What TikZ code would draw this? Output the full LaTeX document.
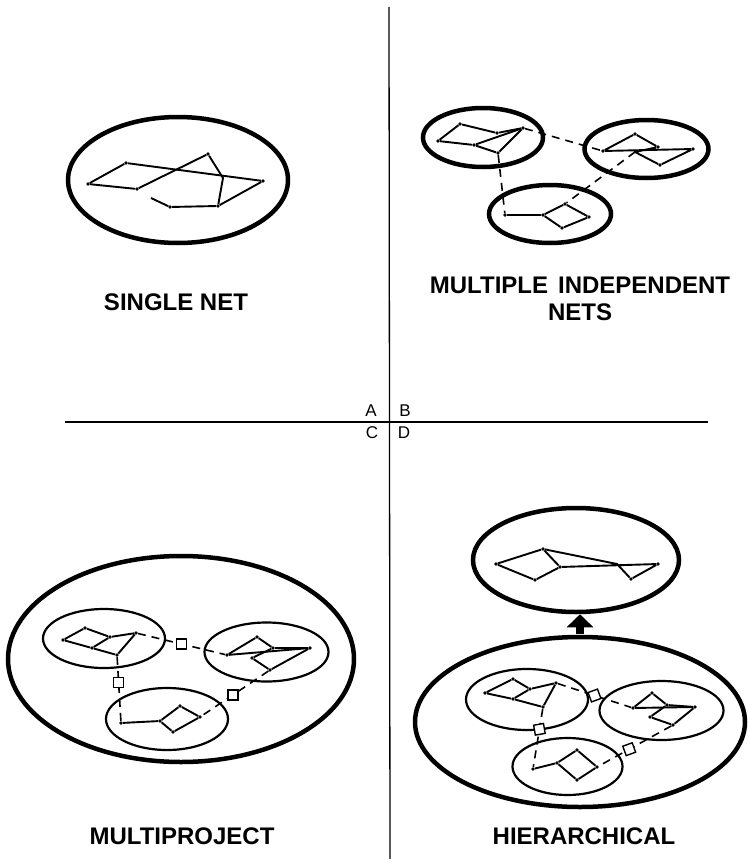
\documentclass[tikz,border=0pt]{standalone}
\usepackage{fontspec}
\setsansfont{Liberation Sans}
\usetikzlibrary{shapes.geometric, arrows.meta}
\tikzset{
  % boundary of a net (line width as parameter)
  ring/.style={ellipse, draw, inner sep=0pt, line width=#1},
  ring/.default=4.5pt,
  vtx/.style={circle, fill, inner sep=0pt, minimum size=3.6pt},
  netedge/.style={line width=1.9pt, line join=round},
  link/.style={dash pattern=on 8pt off 6pt, line width=1.6pt},
  linkbox/.style={rectangle, draw, solid, fill=white, line width=1.4pt, minimum size=10pt, inner sep=0pt},
  caption/.style={font=\sffamily\bfseries\fontsize{24}{27}\selectfont, align=center},
  quadrant/.style={font=\sffamily\fontsize{17}{18}\selectfont},
  liftarrow/.style={line width=8pt, -{Triangle[width=26pt,length=13pt]}, shorten <=1pt}
}
\begin{document}
\begin{tikzpicture}[x=1pt, y=-1pt]
  \useasboundingbox (0,0) rectangle (747,859);

  % Quadrant axes
  \coordinate (vtop) at (389,7);
  \coordinate (vbot) at (390,859);
  \coordinate (hleft) at (65,422);
  \coordinate (hright) at (708,422);
  \draw[line width=1.3pt] (vtop) -- (vbot);
  \draw[line width=1.8pt] (hleft) -- (hright);
  \node[quadrant] (qa) at (371,411) {A};
  \node[quadrant] (qb) at (405,411) {B};
  \node[quadrant] (qc) at (372,433) {C};
  \node[quadrant] (qd) at (404,433) {D};

  % A: single net
  \node[ring, minimum width=220pt, minimum height=126pt] (single) at (178,180) {};
  \node[vtx] (a1) at (88,184) {};
  \node[vtx] (a2) at (126,163) {};
  \node[vtx] (a3) at (137,189) {};
  \node[vtx] (a4) at (208,154) {};
  \node[vtx] (a5) at (263,181) {};
  \coordinate (a6) at (223,178);
  \node[vtx] (a7) at (218,206) {};
  \node[vtx] (a8) at (170,207) {};
  \coordinate (a9) at (151,198);
  \draw[netedge] (a1) -- (a2) -- (a5);
  \draw[netedge] (a1) -- (a3);
  \draw[netedge] (a3) -- (a4) -- (a6) -- (a7) -- (a5);
  \draw[netedge] (a7) -- (a8) -- (a9);
  \node[caption] (capa) at (176,302) {SINGLE NET};

  % B: multiple independent nets
  \node[ring, minimum width=120pt, minimum height=59pt] (bone) at (483,137.5) {};
  \node[ring, minimum width=124pt, minimum height=58pt] (btwo) at (646.5,149) {};
  \node[ring, minimum width=122pt, minimum height=58pt] (bthree) at (550,214) {};
  \node[vtx] (p1) at (438,141) {};
  \node[vtx] (p2) at (460,124) {};
  \node[vtx] (p3) at (497,133) {};
  \node[vtx] (p4) at (474,145) {};
  \node[vtx] (p5) at (523,128) {};
  \node[vtx] (p6) at (498,153) {};
  \draw[netedge] (p1) -- (p2) -- (p3) -- (p5) -- (p6) -- (p4) -- (p1);
  \draw[netedge] (p4) -- (p5);
  \node[vtx] (q1) at (603,151) {};
  \node[vtx] (q2) at (635,134) {};
  \node[vtx] (q3) at (658,147) {};
  \node[vtx] (q4) at (693,149) {};
  \node[vtx] (q5) at (660,165) {};
  \coordinate (q6) at (635,152);
  \draw[netedge] (q1) -- (q2) -- (q3) -- (q6) -- (q5) -- (q4) -- (q1);
  \node[vtx] (r1) at (505,215) {};
  \node[vtx] (r2) at (543,215) {};
  \node[vtx] (r3) at (565,204) {};
  \node[vtx] (r4) at (589,217) {};
  \node[vtx] (r5) at (562,228) {};
  \draw[netedge] (r1) -- (r2) -- (r3) -- (r4) -- (r5) -- (r2);
  \draw[link] (p5) -- (q1);
  \draw[link] (p6) -- (r1);
  \draw[link] (q6) -- (r3);
  \node[caption] (capb) at (580,299) {MULTIPLE\hspace{10pt}INDEPENDENT\\NETS};

  % C: multiproject
  \node[ring, minimum width=346pt, minimum height=206pt] (cbig) at (181,659) {};
  \node[ring=2.2pt, minimum width=122pt, minimum height=59pt] (cone) at (104,638.5) {};
  \node[ring=2.2pt, minimum width=124pt, minimum height=59pt] (ctwo) at (266.5,652) {};
  \node[ring=2.2pt, minimum width=122pt, minimum height=62pt] (cthree) at (167,719) {};
  \node[vtx] (s1) at (63,640) {};
  \node[vtx] (s2) at (85,628) {};
  \node[vtx] (s3) at (110,637) {};
  \node[vtx] (s4) at (136,633) {};
  \node[vtx] (s5) at (92,648) {};
  \node[vtx] (s6) at (117,655) {};
  \draw[netedge] (s1) -- (s2) -- (s3) -- (s4) -- (s6) -- (s5) -- (s1);
  \draw[netedge] (s5) -- (s3);
  \node[vtx] (t1) at (227,655) {};
  \node[vtx] (t2) at (257,637) {};
  \node[vtx] (t3) at (273,648) {};
  \node[vtx] (t4) at (310,648) {};
  \node[vtx] (t5) at (252,658) {};
  \node[vtx] (t6) at (270,670) {};
  \draw[netedge] (t1) -- (t2) -- (t3) -- (t4) -- (t6) -- (t5) -- (t3);
  \draw[netedge] (t1) -- (t4);
  \node[vtx] (u1) at (121,723) {};
  \node[vtx] (u2) at (160,721) {};
  \node[vtx] (u3) at (180,706) {};
  \node[vtx] (u4) at (200,717) {};
  \node[vtx] (u5) at (173,732) {};
  \draw[netedge] (u1) -- (u2) -- (u3) -- (u4) -- (u5) -- (u2);
  \draw[link] (s4) -- node[linkbox] {} (t1);
  \draw[link] (s6) -- node[linkbox, pos=0.4] {} (u1);
  \draw[link] (t6) -- node[linkbox, pos=0.53] {} (u4);
  \node[caption] (capc) at (182,836) {MULTIPROJECT};

  % D: hierarchical
  \node[ring, minimum width=206pt, minimum height=104pt] (dtop) at (576,560) {};
  \node[vtx] (v1) at (496,564) {};
  \node[vtx] (v2) at (543,549) {};
  \node[vtx] (v3) at (535,580) {};
  \node[vtx] (v4) at (560,567) {};
  \coordinate (v5) at (617,564);
  \node[vtx] (v6) at (658,564) {};
  \node[vtx] (v7) at (631,579) {};
  \draw[netedge] (v3) -- (v1) -- (v2) -- (v4) -- (v3);
  \draw[netedge] (v2) -- (v5) -- (v7) -- (v6) -- (v4);
  \node[ring, minimum width=330pt, minimum height=170pt] (dbig) at (580,722) {};
  \draw[liftarrow] (dbig.north) -- (dbig.north |- dtop.south);
  \node[ring=2.2pt, minimum width=122pt, minimum height=61pt] (done) at (527,699.5) {};
  \node[ring=2.2pt, minimum width=124pt, minimum height=59pt] (dtwo) at (661.5,710.5) {};
  \node[ring=2.2pt, minimum width=110pt, minimum height=57pt] (dthree) at (567.5,766.5) {};
  \node[vtx] (w1) at (485,693) {};
  \node[vtx] (w2) at (513,679) {};
  \node[vtx] (w3) at (530,689) {};
  \node[vtx] (w4) at (556,683) {};
  \node[vtx] (w5) at (513,699) {};
  \node[vtx] (w6) at (543,707) {};
  \draw[netedge] (w1) -- (w2) -- (w3) -- (w4) -- (w6) -- (w5) -- (w1);
  \draw[netedge] (w5) -- (w3);
  \node[vtx] (y1) at (633,708) {};
  \node[vtx] (y2) at (652,693) {};
  \node[vtx] (y3) at (667,705) {};
  \node[vtx] (y4) at (695,707) {};
  \node[vtx] (y5) at (650,717) {};
  \node[vtx] (y6) at (673,725) {};
  \draw[netedge] (y1) -- (y2) -- (y3) -- (y4) -- (y6) -- (y5) -- (y3);
  \draw[netedge] (y1) -- (y4);
  \node[vtx] (z1) at (533,769) {};
  \node[vtx] (z2) at (557,763) {};
  \node[vtx] (z3) at (577,750) {};
  \node[vtx] (z4) at (597,767) {};
  \node[vtx] (z5) at (577,780) {};
  \draw[netedge] (z1) -- (z2) -- (z3) -- (z4) -- (z5) -- (z2);
  \draw[link] (w4) -- node[linkbox, rotate=20] {} (y1);
  \draw[link] (w6) -- node[linkbox, pos=0.35, rotate=10] {} (z1);
  \draw[link] (y6) -- node[linkbox, pos=0.58, rotate=20] {} (z4);
  \node[caption] (capd) at (584,836) {HIERARCHICAL};
\end{tikzpicture}
\end{document}
